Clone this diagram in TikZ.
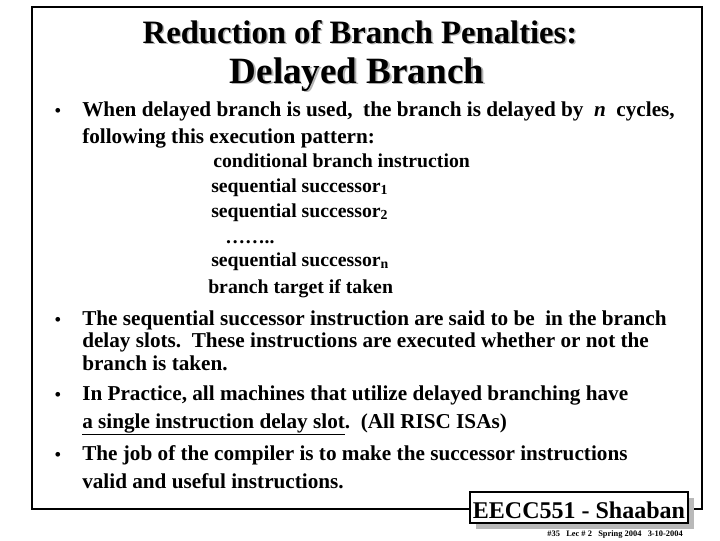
\documentclass[tikz,border=0pt]{standalone}
\usepackage{fontspec}
\setmainfont{Liberation Serif}
\begin{document}
\begin{tikzpicture}[x=0.75pt,y=-0.75pt,
  body/.style={anchor=base west,inner sep=0,font=\bfseries\fontsize{15.9}{18}\selectfont},
  cen/.style={anchor=base west,inner sep=0,font=\bfseries\fontsize{14.8}{17}\selectfont},
  bul/.style={anchor=base,inner sep=0,font=\bfseries\fontsize{13}{16}\selectfont}]
\useasboundingbox (0,0) rectangle (720,540);
\draw[line width=2.2pt] (32,7) rectangle (702,509);
% title with shadow
\foreach \c/\d in {gray!60/1.5,black/0}{
 \node[anchor=base,inner sep=0,text=\c,font=\bfseries\fontsize{24.5}{27}\selectfont] (t1) at (360+\d,43+\d) {Reduction of Branch Penalties:};
 \node[anchor=base,inner sep=0,text=\c,font=\bfseries\fontsize{27.8}{30}\selectfont] (t2) at (357+\d,83+\d) {Delayed Branch};}
\node[bul] (b1) at (58,116) {•};
\node[body] (l1) at (82,116) {When delayed branch is used,\ \ the branch is delayed by\ \ \textit{n}\ \ cycles,};
\node[body] (l2) at (82,143) {following this execution pattern:};
\node[cen] (c1) at (213,167) {conditional branch instruction};
\node[cen] (c2) at (211,192) {sequential successor\textsubscript{1}};
\node[cen] (c3) at (211,217) {sequential successor\textsubscript{2}};
\node[cen] (c4) at (225,243) {……..};
\node[cen] (c5) at (211,266) {sequential successor\textsubscript{n}};
\node[cen] (c6) at (208,293) {branch target if taken};
\node[bul] (b2) at (58,325) {•};
\node[body] (m1) at (82,325) {The sequential successor instruction are said to be\ \ in the branch};
\node[body] (m2) at (82,347) {delay slots.\ \ These instructions are executed whether or not the};
\node[body] (m3) at (82,370) {branch is taken.};
\node[bul] (b3) at (58,400) {•};
\node[body] (n1) at (82,400) {In Practice, all machines that utilize delayed branching have};
\node[body] (n2) at (82,428) {\underline{a single instruction delay slot}.\ \ (All RISC ISAs)};
\node[bul] (b4) at (58,460) {•};
\node[body] (o1) at (82,460) {The job of the compiler is to make the successor instructions};
\node[body] (o2) at (82,488) {valid and useful instructions.};
% footer box
\fill[gray!55] (476,498) rectangle (694,529);
\draw[fill=white,line width=1pt] (470,492) rectangle (688,523);
\node[anchor=base,inner sep=0,font=\bfseries\fontsize{18}{20}\selectfont] (ft) at (579,518) {EECC551 - Shaaban};
\node[anchor=base east,inner sep=0,font=\bfseries\fontsize{6.3}{7}\selectfont] (fs) at (683,536) {\#35\ \ \ Lec \# 2\ \ \ Spring 2004\ \ \ 3-10-2004};
\end{tikzpicture}
\end{document}
